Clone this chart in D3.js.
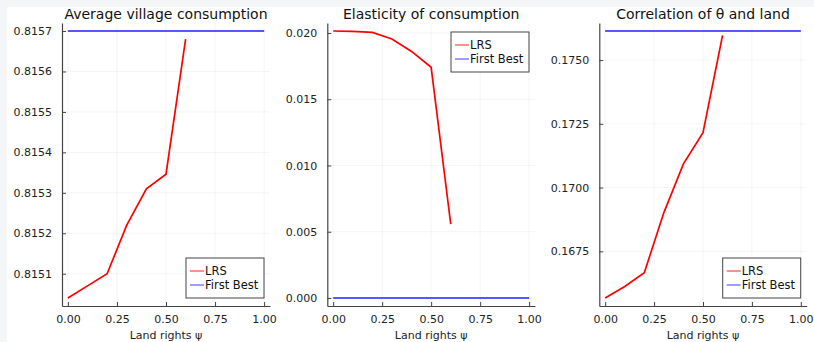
<!DOCTYPE html>
<html>
<head>
<meta charset="utf-8">
<script src="https://cdn.jsdelivr.net/npm/d3@7"></script>
<style>
  body { margin: 0; background: #f4f5f7; }
  svg { display: block; font-family: "DejaVu Sans", sans-serif; }
</style>
</head>
<body>
<svg id="chart" width="814" height="342"></svg>
<script>
// data
var psi = [0.0, 0.1, 0.2, 0.3, 0.4, 0.5, 0.6];
var psiFirstBest = [0.0, 1.0];

var consLRS = [0.81504, 0.81507, 0.81510, 0.81522, 0.81531, 0.815346, 0.81568];
var consFB = [0.81570, 0.81570];

var elastLRS = [0.02015, 0.02012, 0.02005, 0.01955, 0.01861, 0.01741, 0.00558];
var elastFB = [0.0, 0.0];

var corrLRS = [0.16567, 0.16612, 0.16666, 0.16902, 0.17093, 0.17215, 0.17597];
var corrFB = [0.17614, 0.17614];

var xTicks = [0, 0.25, 0.5, 0.75, 1.0];
var consTicks = [0.8151, 0.8152, 0.8153, 0.8154, 0.8155, 0.8156, 0.8157];
var elastTicks = [0.000, 0.005, 0.010, 0.015, 0.020];
var corrTicks = [0.1675, 0.1700, 0.1725, 0.1750];

var seriesNames = ["LRS", "First Best"];
var seriesColors = ["#ff0000", "#2020ff"];

var panels = [
  { title: "Average village consumption", lrs: consLRS, fb: consFB, ticks: consTicks, fmt: ".4f",
    left: 62, right: 270, legend: "bottom" },
  { title: "Elasticity of consumption", lrs: elastLRS, fb: elastFB, ticks: elastTicks, fmt: ".3f",
    left: 327.3, right: 535, legend: "top" },
  { title: "Correlation of \u03b8 and land", lrs: corrLRS, fb: corrFB, ticks: corrTicks, fmt: ".4f",
    left: 599.3, right: 806.7, legend: "bottom" }
];

var svg = d3.select("svg#chart");
var plotTop = 23, plotBottom = 306;

// white canvas, grey strip at top/left
svg.append("rect").attr("x", 7).attr("y", 7).attr("width", 807).attr("height", 335).attr("fill", "#fff");

panels.forEach(function(p) {
  var g = svg.append("g");
  var x = d3.scaleLinear().domain([-0.03, 1.03]).range([p.left, p.right]);
  var all = p.lrs.concat(p.fb);
  var lo = d3.min(all), hi = d3.max(all), pad = (hi - lo) * 0.03;
  var y = d3.scaleLinear().domain([lo - pad, hi + pad]).range([plotBottom, plotTop]);

  // grid
  g.selectAll(".gx").data(xTicks).enter().append("line")
    .attr("x1", function(d) { return x(d); }).attr("x2", function(d) { return x(d); })
    .attr("y1", plotTop).attr("y2", plotBottom)
    .attr("stroke", "#000").attr("stroke-opacity", 0.08).attr("stroke-width", 0.6);
  g.selectAll(".gy").data(p.ticks).enter().append("line")
    .attr("x1", p.left).attr("x2", p.right)
    .attr("y1", function(d) { return y(d); }).attr("y2", function(d) { return y(d); })
    .attr("stroke", "#000").attr("stroke-opacity", 0.08).attr("stroke-width", 0.6);

  // axes
  var xAxis = d3.axisBottom(x).tickValues(xTicks).tickFormat(d3.format(".2f")).tickSizeInner(-4).tickSizeOuter(0).tickPadding(9);
  var yAxis = d3.axisLeft(y).tickValues(p.ticks).tickFormat(d3.format(p.fmt)).tickSizeInner(-4).tickSizeOuter(0).tickPadding(10);
  var gx = g.append("g").attr("transform", "translate(0," + plotBottom + ")").call(xAxis);
  var gy = g.append("g").attr("transform", "translate(" + p.left + ",0)").call(yAxis);
  [gx, gy].forEach(function(a) {
    a.select(".domain").attr("stroke", "#444").attr("stroke-width", 1.2);
    a.selectAll(".tick line").attr("stroke", "#444");
    a.selectAll("text").attr("fill", "#222").style("font-size", "11px").style("font-family", "DejaVu Sans");
  });

  // lines
  var line = d3.line();
  g.append("path")
    .attr("d", line(psi.map(function(d, i) { return [x(d), y(p.lrs[i])]; })))
    .attr("fill", "none").attr("stroke", seriesColors[0]).attr("stroke-width", 1.7);
  g.append("path")
    .attr("d", line(psiFirstBest.map(function(d, i) { return [x(d), y(p.fb[i])]; })))
    .attr("fill", "none").attr("stroke", seriesColors[1]).attr("stroke-width", 1.7);

  // title and x label
  var cx = (p.left + p.right) / 2;
  g.append("text").attr("x", cx).attr("y", 19).attr("text-anchor", "middle")
    .style("font-size", "14px").attr("fill", "#111").text(p.title);
  g.append("text").attr("x", cx).attr("y", 339).attr("text-anchor", "middle")
    .style("font-size", "11px").attr("fill", "#222").text("Land rights \u03c8");

  // legend
  var lw = 78, lh = 40;
  var lx = p.right - 6 - lw;
  var ly = p.legend === "top" ? plotTop + 9 : plotBottom - 8 - lh;
  var lg = g.append("g").attr("transform", "translate(" + lx + "," + ly + ")");
  lg.append("rect").attr("width", lw).attr("height", lh)
    .attr("fill", "#fff").attr("stroke", "#444").attr("stroke-width", 1);
  seriesNames.forEach(function(name, i) {
    var cy = 13 + i * 14;
    lg.append("line").attr("x1", 4).attr("x2", 18).attr("y1", cy).attr("y2", cy)
      .attr("stroke", seriesColors[i]).attr("stroke-opacity", 0.55).attr("stroke-width", 1.6);
    lg.append("text").attr("x", 19).attr("y", cy + 4).style("font-size", "11.5px")
      .attr("fill", "#111").text(name);
  });
});
</script>
</body>
</html>
